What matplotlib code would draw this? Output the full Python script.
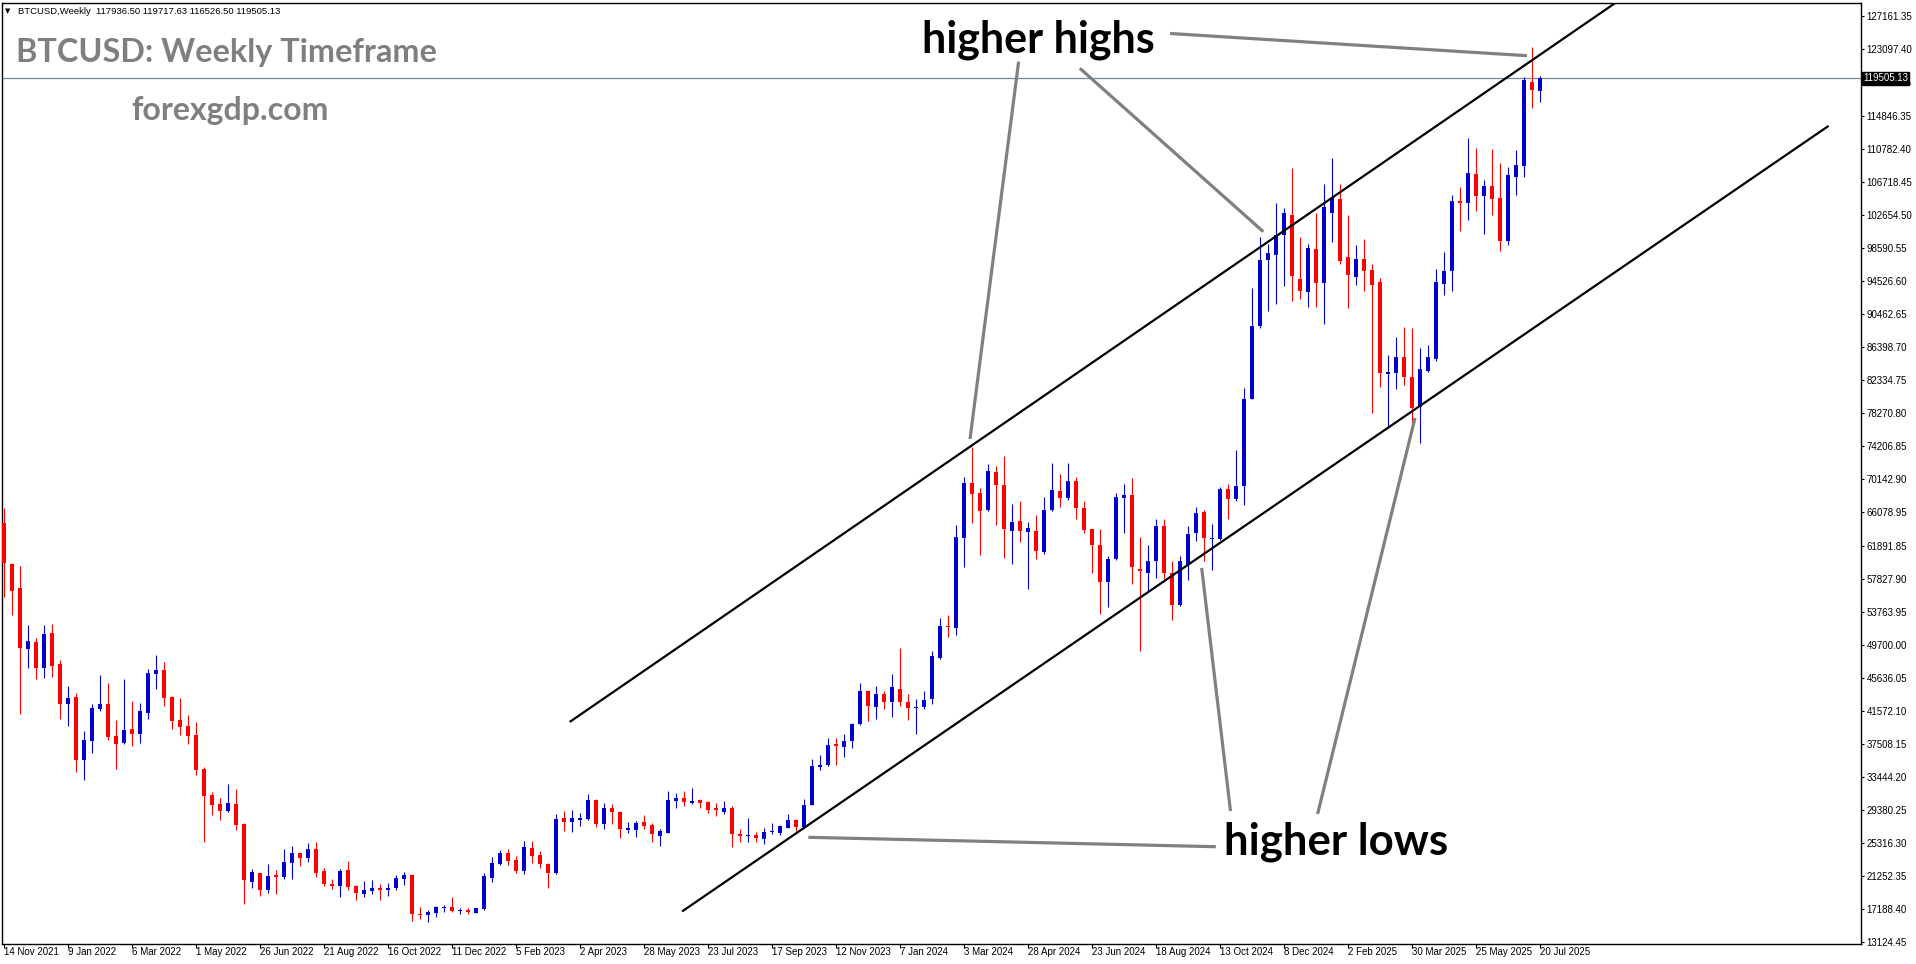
import numpy as np
import matplotlib
matplotlib.use('Agg')
import matplotlib.pyplot as plt

# weekly BTCUSD candles, 14 Nov 2021 .. 20 Jul 2025 (one bar per week)
opens = [64655, 59646, 56690, 49175, 49997, 46877, 51105, 47328, 42442, 43263,
         35544, 37884, 41785, 42401, 38459, 37638, 39321, 38746, 41333, 46137,
         46589, 43263, 40430, 39691, 38582, 34393, 31191, 30082, 29262, 30123,
         27619, 20516, 21542, 19530, 21337, 21132, 22856, 24046, 23470, 24540,
         21830, 20228, 19982, 21953, 19982, 19037, 19366, 19735, 19530, 19694,
         20885, 21337, 16573, 16451, 16697, 17313, 17395, 16943, 17067, 16697,
         17100, 21009, 22733, 24087, 23185, 21830, 24663, 23800, 22733, 21583,
         28358, 27907, 28153, 28235, 30575, 27660, 29590, 29097, 26880, 26921,
         27907, 27496, 26182, 26551, 30493, 30822, 30206, 30535, 30347, 29545,
         29120, 29592, 26386, 26151, 26245, 25774, 26575, 26528, 27188, 28131,
         27282, 30016, 34683, 34871, 37417, 37087, 37888, 39916, 44017, 41990,
         43687, 42650, 44300, 42650, 41942, 42037, 42980, 48118, 52031, 51795,
         62873, 69614, 68388, 66314, 70981, 69378, 63769, 64995, 63627, 63708,
         61163, 66254, 68612, 67763, 69884, 66491, 63898, 62012, 57393, 60222,
         67810, 68141, 59091, 58572, 59986, 64276, 58477, 54564, 59515, 63427,
         66019, 62719, 62719, 68848, 67669, 69225, 80020, 89024, 97132, 97745,
         100196, 102647, 94793, 93192, 98448, 94301, 102923, 104607, 97421, 94958,
         97216, 95861, 94342, 83050, 83132, 85103, 82722, 79026, 83461, 84858,
         94136, 95779, 104361, 104155, 107645, 105017, 106208, 104689, 99474, 107358,
         108713, 118978, 117936.50]
highs = [66503, 59728, 59400, 52132, 50490, 52132, 52255, 47821, 44618, 43715,
         39075, 42401, 45973, 44988, 40430, 45480, 42811, 42524, 46712, 48436,
         47574, 43345, 43140, 41045, 40183, 34600, 31561, 30781, 32546, 31931,
         27701, 22075, 21624, 22692, 21953, 24540, 24910, 24087, 25279, 25402,
         22158, 20844, 22075, 23061, 20105, 20598, 20721, 20228, 20310, 21337,
         21707, 21419, 17354, 17026, 17560, 17683, 18668, 17231, 17231, 17313,
         21624, 23595, 24376, 24581, 23718, 25566, 25566, 24334, 22856, 28810,
         29221, 29344, 29015, 31355, 30657, 30247, 30082, 29221, 27907, 28030,
         28728, 27784, 27004, 31684, 31479, 31643, 32054, 30724, 30394, 30158,
         30394, 29781, 26999, 28367, 26622, 27141, 27753, 27470, 28838, 28272,
         30677, 35673, 36145, 38171, 38218, 38690, 40010, 44960, 44159, 44630,
         44017, 46138, 49344, 43687, 42980, 44017, 48872, 53021, 53351, 64429,
         70321, 74092, 69001, 71971, 71688, 73008, 67021, 67446, 64806, 65690,
         67905, 72148, 70734, 72101, 70356, 67434, 63991, 63991, 60693, 68377,
         69555, 70262, 62955, 62012, 65171, 65171, 59986, 60693, 64370, 66632,
         66254, 64605, 69083, 69555, 73703, 81340, 93596, 99960, 99018, 104109,
         103496, 108446, 99967, 99064, 102923, 106454, 109698, 106454, 102636, 98941,
         99680, 96559, 94917, 85391, 87649, 88881, 88757, 86212, 86623, 95984,
         98037, 105100, 106044, 112080, 110848, 106947, 110725, 109000, 108508, 110643,
         119594, 123371, 119717.63]
lows = [55622, 53364, 41169, 46877, 45480, 45644, 45768, 40553, 39691, 34065,
        33080, 36406, 41580, 38007, 34435, 37432, 37268, 37597, 40594, 44249,
        42196, 39321, 38582, 37514, 33696, 25443, 28769, 28153, 29138, 26921,
        17806, 19776, 18791, 19119, 19037, 20885, 20885, 22486, 22897, 21132,
        20023, 19653, 18668, 19530, 18298, 18668, 19037, 18298, 18791, 19530,
        20146, 15712, 15876, 15589, 16204, 16820, 16738, 16492, 16533, 16650,
        17026, 20516, 22568, 22568, 21624, 21419, 22774, 22158, 19776, 21460,
        26757, 26675, 27373, 28150, 27291, 27045, 27660, 25937, 26551, 26059,
        26963, 25443, 24950, 26469, 29630, 29877, 30041, 29640, 28980, 28602,
        28791, 24831, 25443, 25443, 25443, 25161, 26339, 26245, 27094, 26717,
        27188, 29922, 34259, 34730, 34871, 35814, 36946, 39800, 40293, 40576,
        41801, 40764, 42179, 40387, 38690, 41801, 42367, 47930, 50664, 50947,
        59243, 64664, 60799, 66173, 64429, 60374, 59620, 62401, 56509, 60269,
        60833, 66161, 66632, 67575, 65171, 63427, 58477, 53433, 54376, 60100,
        63521, 57205, 48907, 56262, 57863, 57770, 52725, 54470, 57628, 62484,
        59986, 58950, 62578, 65218, 67434, 66868, 79926, 88741, 90768, 91711,
        93926, 92088, 92248, 91263, 91263, 89168, 99351, 96559, 91139, 94013,
        93315, 78205, 81408, 76357, 81162, 81696, 76891, 74490, 83338, 84694,
        92781, 93315, 100665, 102020, 103170, 100296, 102636, 98242, 98941, 105141,
        107358, 115775, 116526.50]
closes = [59728, 56361, 49340, 50161, 46877, 51023, 47123, 42442, 43099, 35544,
          37966, 41908, 42401, 38377, 37514, 39198, 38746, 41538, 46219, 46589,
          43181, 40348, 39568, 38418, 34311, 31109, 30000, 29262, 30206, 27537,
          20762, 21707, 19530, 21214, 21091, 22897, 24046, 23470, 24540, 21583,
          20187, 19982, 21789, 19900, 19078, 19489, 19735, 19530, 19776, 21009,
          21296, 16573, 16410, 16779, 17395, 17436, 16943, 17067, 16820, 17272,
          21214, 22815, 24087, 23102, 21830, 24786, 23718, 22651, 21583, 28235,
          27907, 28358, 28358, 30575, 27660, 29590, 29138, 27045, 27127, 27784,
          27414, 26346, 26798, 30575, 30822, 30370, 30493, 30253, 29404, 29309,
          29592, 26434, 26151, 26245, 25867, 26575, 26810, 27376, 28084, 27282,
          30016, 34730, 34871, 37323, 37229, 37794, 39916, 44017, 42132, 43687,
          42650, 44441, 42650, 41942, 42085, 42885, 48307, 52031, 51889, 62967,
          69614, 68294, 66220, 71122, 69378, 64005, 64806, 63769, 64052, 61305,
          66301, 68753, 67810, 69884, 66491, 63802, 62012, 57393, 60222, 67905,
          68141, 59279, 58808, 59986, 64370, 58477, 54564, 59986, 63332, 65878,
          62813, 62861, 68848, 67669, 69225, 80020, 89024, 97037, 97933, 100196,
          102930, 95105, 93315, 98571, 94301, 103662, 104689, 97011, 95245, 97216,
          95779, 94013, 83132, 83338, 85103, 82640, 78821, 83625, 85103, 94342,
          95738, 104361, 104155, 107768, 105017, 106208, 104607, 99474, 107522, 108754,
          119265, 118033, 119505.13]

date_labels = ['14 Nov 2021', '9 Jan 2022', '6 Mar 2022', '1 May 2022', '26 Jun 2022',
               '21 Aug 2022', '16 Oct 2022', '11 Dec 2022', '5 Feb 2023', '2 Apr 2023',
               '28 May 2023', '23 Jul 2023', '17 Sep 2023', '12 Nov 2023', '7 Jan 2024',
               '3 Mar 2024', '28 Apr 2024', '23 Jun 2024', '18 Aug 2024', '13 Oct 2024',
               '8 Dec 2024', '2 Feb 2025', '30 Mar 2025', '25 May 2025', '20 Jul 2025']
date_label_bars = [0, 8, 16, 24, 32, 40, 48, 56, 64, 72, 80, 88, 96, 104, 112,
                   120, 128, 136, 144, 152, 160, 168, 176, 184, 192]

price_labels = [127161.35, 123097.40, 119033.45, 114846.35, 110782.40, 106718.45,
                102654.50, 98590.55, 94526.60, 90462.65, 86398.70, 82334.75,
                78270.80, 74206.85, 70142.90, 66078.95, 61891.85, 57827.90,
                53763.95, 49700.00, 45636.05, 41572.10, 37508.15, 33444.20,
                29380.25, 25316.30, 21252.35, 17188.40, 13124.45]

last_price = 119505.13
header = 'BTCUSD,Weekly  117936.50 119717.63 116526.50 119505.13'

# channel lines (bar index, price)
upper_channel = ([70.83, 203.0], [40270, 129830])
lower_channel = ([84.875, 227.96], [16927, 113537])

# grey pointer lines
hh_pointers = [([126.83, 120.75], [121520, 75044]),
               ([134.48, 157.41], [120707, 100580]),
               ([145.75, 190.38], [124993, 122259])]
hl_pointers = [([100.55, 151.48], [25981, 24823]),
               ([149.71, 153.31], [59153, 29220]),
               ([164.2, 176.375], [28851, 77630])]

W, H = 1916, 964
plt.rcParams['font.family'] = ['Liberation Sans', 'DejaVu Sans']

fig = plt.figure(figsize=(W / 100, H / 100), dpi=100)
ax = fig.add_axes([2 / W, 20 / H, 1859 / W, 941 / H])

o = np.array(opens, dtype=float)
h = np.array(highs, dtype=float)
l = np.array(lows, dtype=float)
c = np.array(closes, dtype=float)
x = np.arange(len(c))
cols = np.where(c >= o, '#0000CD', '#FF0000')

ax.vlines(x, l, h, colors=cols, linewidth=0.8, zorder=3)
body = np.maximum(np.abs(c - o), 130)
ax.bar(x, body, bottom=np.minimum(o, c), width=0.62, color=cols, linewidth=0, zorder=3)

ax.axhline(last_price, color='#778899', lw=0.9, zorder=2)

ax.plot(*upper_channel, color='black', lw=1.6, zorder=4)
ax.plot(*lower_channel, color='black', lw=1.6, zorder=4)
for xs, ys in hh_pointers + hl_pointers:
    ax.plot(xs, ys, color='#808080', lw=2.3, zorder=4, solid_capstyle='butt')

ax.set_xlim(-0.25, 232.125)
ax.set_ylim(12839, 128750)

ax.yaxis.tick_right()
ax.set_yticks(price_labels)
ax.set_yticklabels(['%.2f' % v for v in price_labels])
ax.tick_params(axis='y', direction='out', length=2.5, width=0.8, pad=1.5, labelsize=7)
ax.set_xticks(date_label_bars)
ax.set_xticklabels(date_labels)
ax.tick_params(axis='x', direction='out', length=3, width=0.8, pad=-1, labelsize=7)
for t in ax.get_xticklabels():
    t.set_ha('left')
for s in ax.spines.values():
    s.set_color('black')
    s.set_linewidth(1.0)

ax.text(1 + 2 / 1859, last_price, '%.2f' % last_price, transform=ax.get_yaxis_transform(),
        ha='left', va='center', fontsize=7, color='white', zorder=6, clip_on=False,
        bbox=dict(boxstyle='square,pad=0.15', facecolor='black', edgecolor='black'))

fig.text(5 / W, 1 - 11 / H, '\u25bc', fontsize=5, family='DejaVu Sans', va='center')
fig.text(18 / W, 1 - 11 / H, header, fontsize=6.8, va='center', ha='left')

grey = '#7f7f7f'
fig.text(16 / W, 1 - 62 / H, 'BTCUSD: Weekly Timeframe', family='Lato', fontweight='bold',
         fontsize=23.3, color=grey, va='baseline')
fig.text(131 / W, 1 - 120 / H, 'forexgdp.com', family='Lato', fontweight='bold',
         fontsize=23, color=grey, va='baseline')
fig.text(922 / W, 1 - 52 / H, 'higher highs', family='Lato', fontweight='bold',
         fontsize=31, color='black', va='baseline')
fig.text(1224 / W, 1 - 855 / H, 'higher lows', family='Lato', fontweight='bold',
         fontsize=31.5, color='black', va='baseline')

fig.savefig('out.png', dpi=100, facecolor='white')
